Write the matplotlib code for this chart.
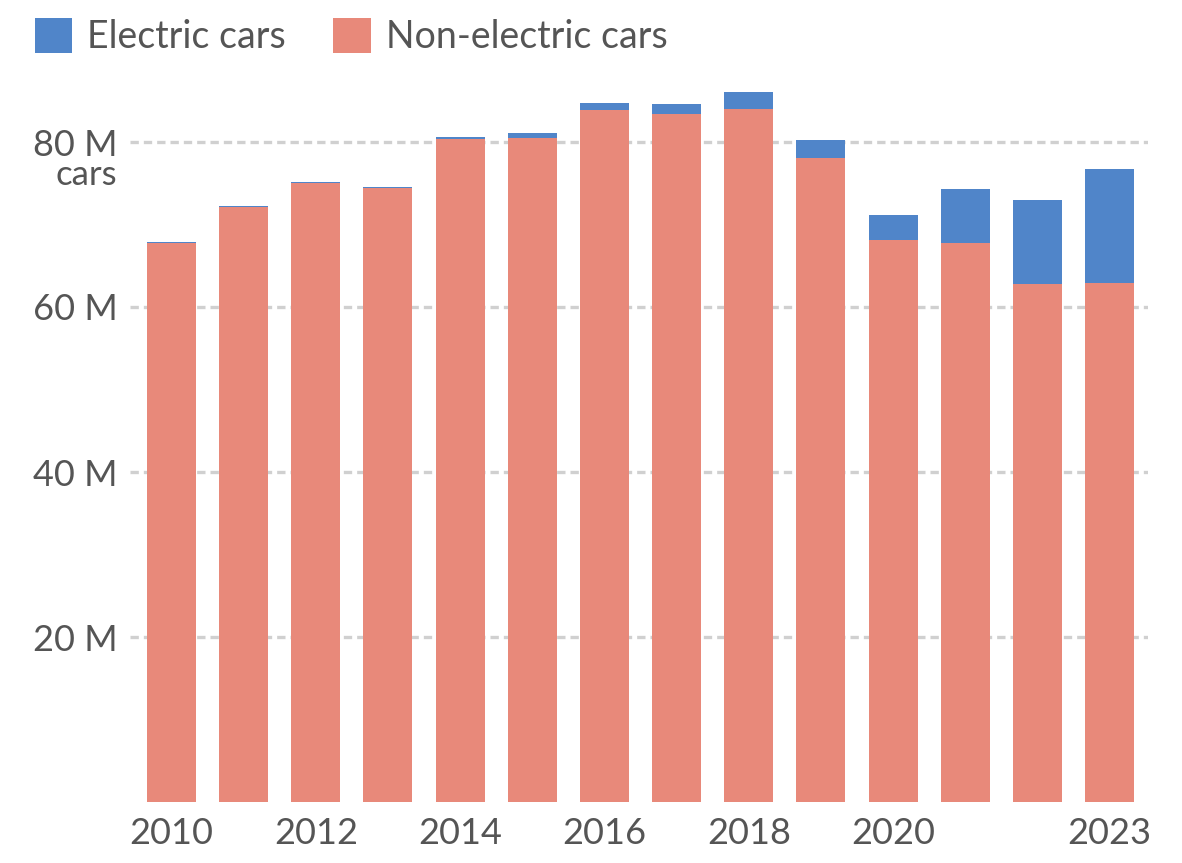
import matplotlib
matplotlib.use("Agg")
import matplotlib.pyplot as plt
from matplotlib.patches import Patch

years = list(range(2010, 2024))
electric = [0.02, 0.05, 0.12, 0.2, 0.3, 0.55, 0.8, 1.2, 2.1, 2.1, 3.0, 6.6, 10.2, 13.8]
non_electric = [67.8, 72.15, 75.0, 74.4, 80.35, 80.5, 83.9, 83.35, 83.95, 78.1, 68.1, 67.7, 62.8, 62.95]
xtick_years = [2010, 2012, 2014, 2016, 2018, 2020, 2023]
ytick_vals = [20, 40, 60, 80]
ytick_labels = ["20 M", "40 M", "60 M", "80 M"]

blue = "#5085c9"
red = "#e8897a"
txt = "#555555"

plt.rcParams['font.family'] = ['Lato', 'DejaVu Sans']

fig = plt.figure(figsize=(11.82, 8.63), dpi=100)
ax = fig.add_axes([130/1182, 1 - 802/863, (1148-130)/1182, (802-59.5)/863])

ax.bar(years, non_electric, width=0.68, color=red, zorder=2)
ax.bar(years, electric, bottom=non_electric, width=0.68, color=blue, zorder=2)

ax.set_xlim(2009.425, 2023.533)
ax.set_ylim(0, 90)
for s in ax.spines.values():
    s.set_visible(False)
ax.set_yticks(ytick_vals)
ax.set_yticklabels(ytick_labels)
ax.set_xticks(xtick_years)
ax.set_xticklabels([str(y) for y in xtick_years])
ax.tick_params(axis='both', length=0, labelsize=26, labelcolor=txt)
ax.tick_params(axis='y', pad=9)
ax.tick_params(axis='x', pad=11)
ax.grid(axis='y', color='#d0d0d0', linestyle=(0, (2.5, 1.5)), linewidth=2.4, zorder=1)
ax.set_axisbelow(True)

ax.annotate("cars", xy=(0, 80), xycoords=ax.get_yaxis_transform(),
            xytext=(-13, -33), textcoords='offset pixels', ha='right', va='center',
            fontsize=25, color=txt)

handles = [Patch(facecolor=blue, label="Electric cars"), Patch(facecolor=red, label="Non-electric cars")]
fig.legend(handles=handles, loc='upper left', bbox_to_anchor=(0.001, 1.018), ncol=2, frameon=False,
           fontsize=27, labelcolor=txt, handlelength=1.0, handleheight=1.05, handletextpad=0.4,
           columnspacing=1.25)

fig.savefig("out.png", dpi=100, facecolor='white')
